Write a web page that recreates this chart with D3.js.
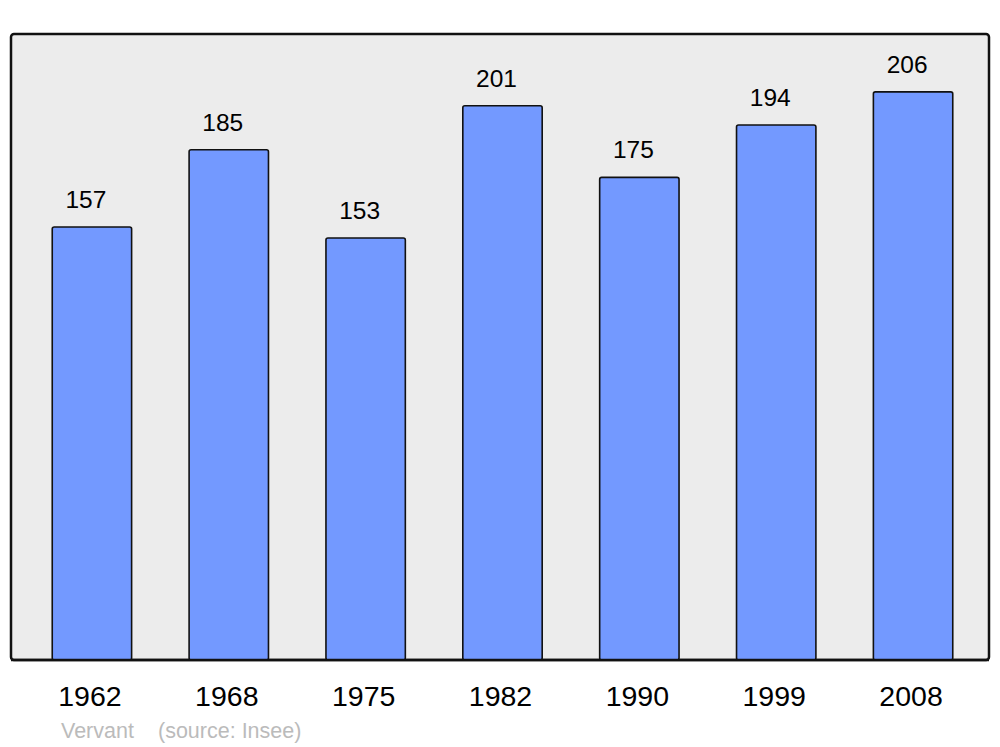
<!DOCTYPE html>
<html><head><meta charset="utf-8">
<script src="https://cdn.jsdelivr.net/npm/d3@7"></script>
<style>html,body{margin:0;padding:0;background:#fff;}svg{display:block;font-family:"Liberation Sans",Arial,sans-serif;}</style>
</head><body>
<script>
const years = ["1962","1968","1975","1982","1990","1999","2008"];
const population = [157,185,153,201,175,194,206];
const placeName = "Vervant";
const sourceText = "(source: Insee)";

const W = 1000, H = 747;
const svg = d3.select("body").append("svg").attr("width", W).attr("height", H);

const frame = {x0: 11, y0: 34, x1: 989, y1: 660};
const x = d3.scaleBand().domain(years).range([23.5, 981.5]).paddingInner(0.42).paddingOuter(0.21);
const y = d3.scaleLinear().domain([0, 227]).range([frame.y1, frame.y0]);

svg.append("rect").attr("x", frame.x0).attr("y", frame.y0)
  .attr("width", frame.x1 - frame.x0).attr("height", frame.y1 - frame.y0)
  .attr("rx", 3).attr("fill", "#ececec").attr("stroke", "#111").attr("stroke-width", 2.5);

const data = years.map((yr, i) => ({yr, v: population[i]}));

svg.selectAll("rect.bar").data(data).join("rect").attr("class", "bar")
  .attr("x", d => x(d.yr)).attr("y", d => y(d.v))
  .attr("width", x.bandwidth()).attr("height", d => y(0) - y(d.v))
  .attr("rx", 2).attr("fill", "#7399ff").attr("stroke", "#111").attr("stroke-width", 1.6);

svg.append("line").attr("x1", frame.x0).attr("x2", frame.x1).attr("y1", frame.y1).attr("y2", frame.y1)
  .attr("stroke", "#111").attr("stroke-width", 2.5);

svg.selectAll("text.val").data(data).join("text").attr("class", "val")
  .attr("x", d => x(d.yr) + x.bandwidth()/2 - 6).attr("y", d => y(d.v) - 19)
  .attr("text-anchor", "middle").attr("font-size", 24.5).attr("fill", "#000").text(d => d.v);

const xAxis = d3.axisBottom(x).tickSize(0).tickPadding(0);
const gx = svg.append("g").attr("transform", `translate(-2,${frame.y1})`).call(xAxis);
gx.select(".domain").remove();
gx.selectAll("text").attr("font-size", 28.5).attr("fill", "#000")
  .attr("font-family", "Liberation Sans, Arial, sans-serif").attr("dy", null).attr("y", 46);

svg.append("text").attr("x", 61).attr("y", 738).attr("font-size", 21.5).attr("fill", "#bbbbbb").text(placeName);
svg.append("text").attr("x", 158).attr("y", 738).attr("font-size", 21.5).attr("fill", "#bbbbbb").text(sourceText);
</script>
</body></html>
